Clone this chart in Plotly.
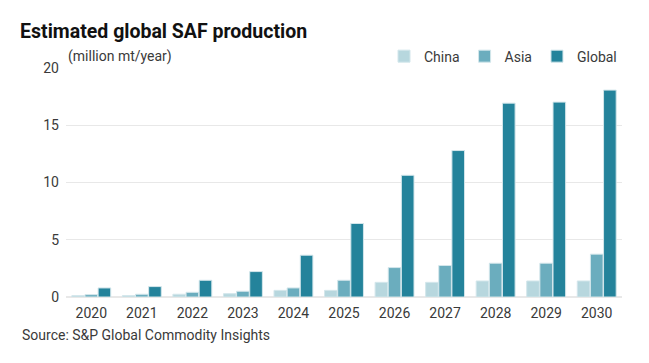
import plotly.graph_objects as go

years = ["2020", "2021", "2022", "2023", "2024", "2025", "2026", "2027", "2028", "2029", "2030"]
china = [0.12, 0.12, 0.24, 0.29, 0.58, 0.58, 1.28, 1.28, 1.40, 1.40, 1.40]
asia = [0.21, 0.24, 0.41, 0.50, 0.79, 1.46, 2.57, 2.75, 2.95, 2.95, 3.74]
global_ = [0.79, 0.91, 1.46, 2.22, 3.65, 6.42, 10.63, 12.79, 16.93, 17.02, 18.07]
y_ticks = [0, 5, 10, 15, 20]

series = [("China", china, "#b7d7de"), ("Asia", asia, "#6badbe"), ("Global", global_, "#24839b")]

FONT = "Roboto"
fig = go.Figure()
for name, vals, col in series:
    fig.add_trace(go.Bar(
        x=years, y=vals, name=name,
        marker=dict(color=col, line=dict(color="#d3e6eb", width=1)),
    ))

fig.update_layout(
    width=649, height=363,
    paper_bgcolor="white", plot_bgcolor="white",
    margin=dict(l=66, r=27, t=68, b=66),
    barmode="group", bargap=0.22, bargroupgap=0.04,
    font=dict(family=FONT, color="#3a3a3a", size=14),
    title=dict(text="<b>Estimated global SAF production</b>", x=0.031, xanchor="left",
               y=0.915, yanchor="middle", font=dict(size=19.5, color="#111111", family=FONT)),
    legend=dict(orientation="h", x=1.0, xanchor="right", y=1.05, yanchor="middle",
                font=dict(size=14, color="#3a3a3a"), itemwidth=30, traceorder="normal",
                bgcolor="rgba(0,0,0,0)"),
    xaxis=dict(showgrid=False, showline=False, ticks="", tickfont=dict(size=14, color="#3a3a3a"),
               ticklabelstandoff=6),
    yaxis=dict(range=[0, 20], tickvals=y_ticks, showgrid=True, gridcolor="#e8e8e8", gridwidth=1,
               zeroline=True, zerolinecolor="#e8e8e8", zerolinewidth=2,
               ticks="", tickfont=dict(size=14, color="#3a3a3a"), ticklabelstandoff=6),
    annotations=[
        dict(text="(million mt/year)", xref="paper", yref="paper", x=0.0, y=1.05,
             xanchor="left", yanchor="middle", showarrow=False, font=dict(size=14, color="#3a3a3a")),
        dict(text="Source: S&P Global Commodity Insights", xref="paper", yref="paper",
             x=-0.083, y=-0.122, xanchor="left", yanchor="top", showarrow=False,
             font=dict(size=14, color="#3a3a3a")),
    ],
)

fig.write_html("out.html")
